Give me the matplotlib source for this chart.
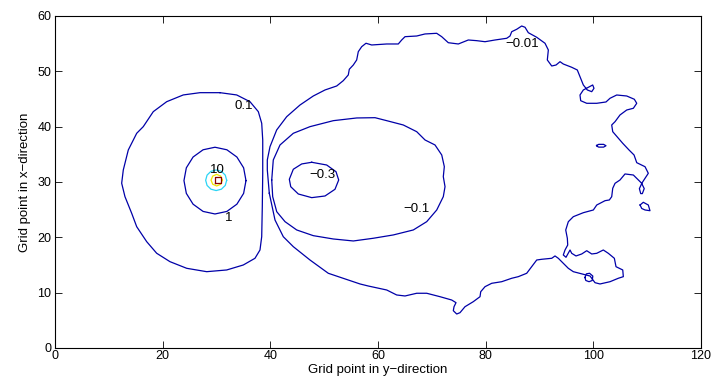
import numpy as np
import matplotlib
matplotlib.use('Agg')
import matplotlib.pyplot as plt

plt.rcParams['font.family'] = ['Liberation Sans', 'DejaVu Sans']

# Contour lines, (y-grid, x-grid) pairs
c_0p1 = [(30.65, 46.14), (33.75, 45.73), (36.22, 44.51), (37.77, 42.71), (38.40, 40.61),
         (38.59, 37.59), (38.59, 31.57), (38.51, 25.54), (38.40, 20.12), (38.08, 17.71),
         (37.15, 16.21), (34.98, 15.00), (31.90, 14.10), (28.18, 13.79), (24.47, 14.40),
         (21.36, 15.60), (18.89, 17.12), (17.04, 19.21), (15.18, 21.92), (14.25, 24.34),
         (13.00, 27.35), (12.39, 29.77), (12.69, 32.17), (13.62, 35.79), (15.18, 38.80),
         (16.40, 40.00), (18.26, 42.71), (20.75, 44.51), (23.83, 45.73), (26.94, 46.14)]

c_1 = [(35.48, 30.25), (35.04, 32.56), (33.79, 34.51), (31.93, 35.82), (29.72, 36.28),
       (27.51, 35.82), (25.65, 34.51), (24.40, 32.56), (23.96, 30.25), (24.40, 27.94),
       (25.65, 25.99), (27.51, 24.68), (29.72, 24.22), (31.93, 24.68), (33.79, 25.99),
       (35.04, 27.94)]

c_3 = [(31.89, 30.31), (31.63, 31.24), (30.92, 31.92), (29.94, 32.17), (28.97, 31.92),
       (28.25, 31.24), (27.99, 30.31), (28.25, 29.38), (28.97, 28.70), (29.94, 28.45),
       (30.92, 28.70), (31.63, 29.38)]

c_10 = [(31.09, 30.33), (30.78, 31.07), (30.04, 31.38), (29.30, 31.07), (28.99, 30.33),
        (29.30, 29.59), (30.04, 29.28), (30.78, 29.59)]

c_30 = [(29.77, 29.77), (30.89, 29.77), (30.89, 30.85), (29.77, 30.85)]

c_m0p3 = [(47.69, 33.56), (50.47, 33.07), (52.20, 31.86), (52.70, 30.36), (52.01, 28.68),
          (50.16, 27.47), (47.69, 27.17), (45.20, 27.83), (43.79, 29.15), (43.53, 30.49),
          (44.27, 32.30), (45.83, 33.26)]

c_m0p1 = [(40.26, 30.36), (40.55, 33.98), (41.80, 36.69), (44.27, 38.80), (47.37, 40.00),
          (51.70, 41.08), (56.05, 41.57), (59.45, 41.62), (61.62, 41.08), (64.70, 40.30),
          (67.19, 39.09), (68.74, 37.59), (70.59, 36.69), (71.84, 34.88), (72.32, 32.77),
          (72.13, 30.96), (72.45, 29.15), (72.13, 27.35), (70.91, 24.94), (69.05, 22.83),
          (66.56, 21.33), (62.85, 20.43), (59.13, 19.83), (55.42, 19.34), (51.70, 19.70),
          (47.98, 20.30), (44.90, 21.33), (42.73, 22.83), (41.19, 24.63), (40.44, 27.35)]

c_m0p01 = [(39.81, 27.96), (39.44, 32.17), (39.44, 33.98), (39.94, 36.38), (41.18, 39.40),
           (43.04, 41.80), (45.51, 43.91), (47.98, 45.54), (50.16, 46.63), (52.33, 47.35),
           (53.55, 48.31), (54.48, 49.34), (54.67, 50.37), (55.41, 51.14), (56.04, 52.05),
           (56.34, 53.55), (56.97, 54.45), (57.77, 55.07), (58.83, 54.76), (61.62, 54.94),
           (63.77, 54.94), (64.40, 55.66), (65.02, 56.26), (67.19, 56.38), (68.73, 56.75),
           (70.90, 56.87), (71.83, 56.26), (73.06, 55.17), (74.92, 54.94), (76.77, 55.66),
           (78.33, 55.54), (79.88, 55.35), (81.73, 55.66), (83.91, 55.97), (84.52, 56.38),
           (84.84, 57.16), (85.77, 57.60), (86.69, 58.19), (87.31, 57.96), (87.92, 56.98),
           (89.48, 56.15), (91.02, 55.07), (91.64, 53.85), (91.45, 52.05), (92.27, 50.96),
           (93.07, 51.14), (93.81, 51.74), (94.42, 51.32), (95.98, 50.73), (97.02, 50.24),
           (97.52, 49.03), (98.14, 47.53), (98.88, 46.63), (99.70, 46.32), (100.12, 46.93),
           (99.88, 47.53), (99.07, 47.11), (98.14, 46.63), (97.52, 45.72), (97.65, 44.69),
           (98.77, 44.22), (100.63, 44.22), (102.35, 44.46), (103.10, 45.13), (104.34, 45.72),
           (106.20, 45.54), (107.61, 44.95), (108.06, 44.22), (107.43, 43.32), (106.20, 43.01),
           (104.95, 42.11), (104.03, 40.90), (103.41, 40.30), (103.60, 39.09), (104.64, 37.90),
           (105.46, 36.99), (106.63, 35.78), (107.56, 34.88), (108.06, 33.49), (109.60, 32.76),
           (110.21, 31.57), (109.60, 30.67), (108.99, 29.76), (108.36, 30.36), (107.43, 31.26),
           (105.88, 31.45), (104.95, 30.36), (104.03, 29.76), (103.60, 28.86), (103.41, 27.34),
           (102.97, 26.75), (102.17, 26.62), (100.63, 25.84), (100.00, 24.94), (98.14, 24.45),
           (96.28, 23.73), (95.35, 22.82), (94.87, 21.32), (95.17, 19.82), (95.24, 18.61),
           (94.74, 17.71), (94.42, 16.81), (94.92, 16.39), (95.67, 17.71), (95.98, 17.11),
           (96.78, 16.63), (97.84, 16.99), (98.77, 17.58), (99.70, 16.99), (100.63, 17.11),
           (101.85, 17.71), (102.78, 17.11), (103.90, 16.21), (104.21, 14.69), (105.46, 14.10),
           (105.57, 12.89), (104.64, 12.60), (103.10, 11.98), (101.24, 11.57), (100.31, 11.80),
           (99.38, 13.01), (96.28, 13.79), (95.35, 14.40), (94.42, 15.31), (93.49, 16.21),
           (92.88, 16.63), (92.27, 16.21), (90.41, 16.03), (89.48, 15.90), (88.55, 14.69),
           (87.62, 13.50), (86.06, 12.89), (84.84, 12.60), (82.98, 11.98), (81.12, 11.69),
           (79.88, 11.08), (79.08, 10.17), (78.95, 9.27), (77.70, 8.37), (76.16, 7.46),
           (75.23, 6.38), (74.62, 6.14), (73.99, 6.74), (74.12, 7.46), (74.49, 8.19),
           (73.69, 8.67), (71.52, 9.27), (69.05, 9.89), (67.19, 9.89), (65.02, 9.40),
           (63.47, 9.58), (61.62, 10.48), (58.20, 11.20), (56.66, 11.57), (53.55, 12.60),
           (50.77, 13.50), (47.37, 15.90), (44.27, 18.31), (42.41, 20.11), (40.87, 23.13)]

# small islands of the -0.01 level
isl_a = [(100.6, 36.6), (101.0, 36.8), (101.9, 36.8), (102.35, 36.55), (101.9, 36.3),
         (101.0, 36.3), (100.6, 36.5)]
isl_b = [(108.99, 29.72), (109.45, 28.8), (109.1, 27.9), (108.8, 27.9), (108.55, 28.8)]
isl_c = [(108.68, 25.84), (109.28, 26.33), (110.21, 25.84), (110.52, 24.81), (109.6, 24.94),
         (108.99, 25.21)]
isl_d = [(98.43, 12.74), (98.7, 13.4), (99.3, 13.5), (99.9, 13.0), (99.8, 12.2),
         (99.2, 11.98), (98.6, 12.2)]

lines = [c_0p1, c_1, c_m0p3, c_m0p1, c_m0p01, isl_a, isl_b, isl_c, isl_d]
inner = [(c_3, '#2bd4f5'), (c_10, '#f2e600'), (c_30, '#8b0000')]

# contour labels
lab_text = ['0.1', '10', '1', '\u22120.3', '\u22120.1', '\u22120.01']
lab_x = [35.1, 30.24, 32.3, 49.6, 67.1, 86.8]
lab_y = [43.7, 32.2, 23.5, 31.3, 25.1, 54.9]

fig = plt.figure(figsize=(7.13, 3.76), dpi=100)
ax = fig.add_axes([0.0771, 0.0745, 0.9061, 0.883])

blue = '#0000a8'
for c in lines:
    pts = np.array(c + [c[0]])
    ax.plot(pts[:, 0], pts[:, 1], color=blue, lw=0.9)
for c, col in inner:
    pts = np.array(c + [c[0]])
    ax.plot(pts[:, 0], pts[:, 1], color=col, lw=0.9)

for t, x, y in zip(lab_text, lab_x, lab_y):
    ax.text(x, y, t, fontsize=9.5, ha='center', va='center', color='black')

ax.set_xlim(0, 120)
ax.set_ylim(0, 60)
ax.set_xticks(np.arange(0, 121, 20))
ax.set_yticks(np.arange(0, 61, 10))
ax.tick_params(direction='in', length=5, width=0.6, top=True, right=True, labelsize=9)
ax.tick_params(axis='x', pad=1.5)
ax.tick_params(axis='y', pad=2.5)
for s in ax.spines.values():
    s.set_linewidth(0.8)
ax.set_xlabel('Grid point in y\u2212direction', fontsize=9.5)
ax.xaxis.set_label_coords(0.5, -0.047)
ax.set_ylabel('Grid point in x\u2212direction', fontsize=9.5, labelpad=5)

fig.savefig('out.png', dpi=100)
